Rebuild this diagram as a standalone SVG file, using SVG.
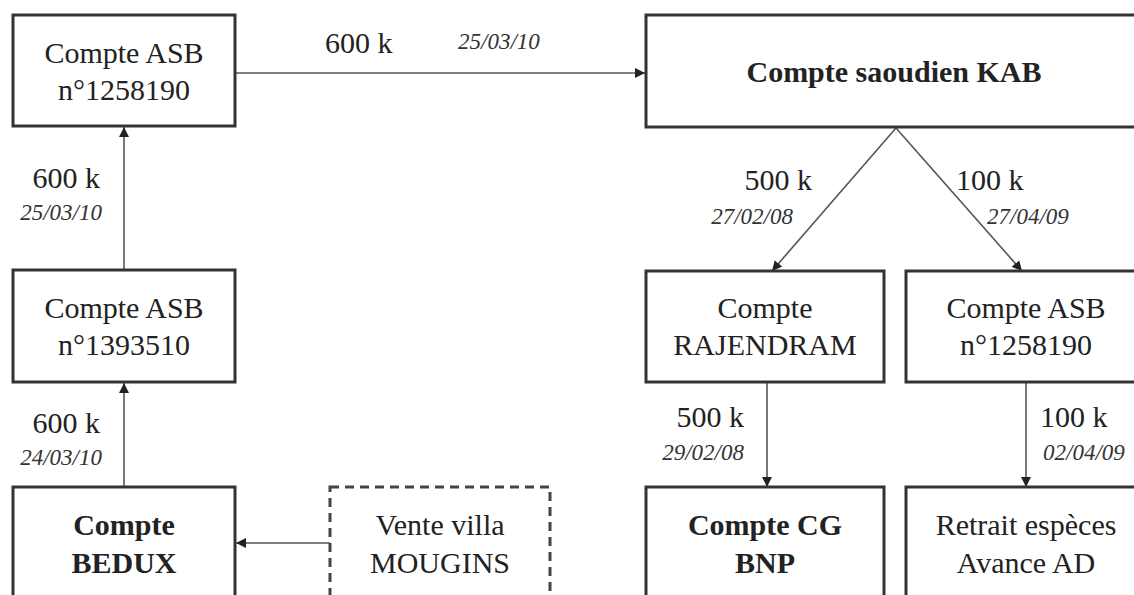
<svg xmlns="http://www.w3.org/2000/svg" width="1134" height="595" viewBox="0 0 1134 595">
<style>
  .box { fill: #fff; stroke: #333; stroke-width: 3; }
  .dash { fill: #fff; stroke: #444; stroke-width: 3; stroke-dasharray: 9 6; }
  .t { font-family: "Liberation Serif", "Times New Roman", serif; font-size: 30px; fill: #222; text-anchor: middle; }
  .b { font-weight: bold; }
  .amt { font-family: "Liberation Serif", "Times New Roman", serif; font-size: 30px; fill: #222; }
  .date { font-family: "Liberation Serif", "Times New Roman", serif; font-size: 23px; font-style: italic; fill: #333; }
  .conn { stroke: #555; stroke-width: 1.6; fill: none; marker-end: url(#arr); }
</style>
<defs>
  <marker id="arr" viewBox="0 0 10 10" refX="10" refY="5" markerWidth="10" markerHeight="10" markerUnits="userSpaceOnUse" orient="auto">
    <path d="M0,0 L10,5 L0,10 Z" fill="#222"/>
  </marker>
</defs>
<rect width="1134" height="595" fill="#fff"/>

<g id="connectors">
  <line class="conn" x1="235" y1="73" x2="645" y2="73"/>
  <line class="conn" x1="124" y1="270" x2="124" y2="127"/>
  <line class="conn" x1="124" y1="487" x2="124" y2="383"/>
  <line class="conn" x1="330" y1="543" x2="236" y2="543"/>
  <line class="conn" x1="896" y1="128" x2="772" y2="271"/>
  <line class="conn" x1="896" y1="128" x2="1022" y2="271"/>
  <line class="conn" x1="767" y1="383" x2="767" y2="487"/>
  <line class="conn" x1="1026" y1="383" x2="1026" y2="487"/>
  <text class="amt" x="325" y="53">600 k</text>
  <text class="date" x="458" y="49">25/03/10</text>
  <text class="amt" x="100" y="188" text-anchor="end">600 k</text>
  <text class="date" x="102" y="220" text-anchor="end">25/03/10</text>
  <text class="amt" x="100" y="433" text-anchor="end">600 k</text>
  <text class="date" x="102" y="465" text-anchor="end">24/03/10</text>
  <text class="amt" x="812" y="190" text-anchor="end">500 k</text>
  <text class="date" x="793" y="224" text-anchor="end">27/02/08</text>
  <text class="amt" x="956" y="190">100 k</text>
  <text class="date" x="987" y="224">27/04/09</text>
  <text class="amt" x="744" y="427" text-anchor="end">500 k</text>
  <text class="date" x="744" y="460" text-anchor="end">29/02/08</text>
  <text class="amt" x="1040" y="427">100 k</text>
  <text class="date" x="1043" y="460">02/04/09</text>
</g>

<g id="asb1258190">
  <rect class="box" x="13" y="15" width="222" height="111"/>
  <text class="t" x="124" y="63">Compte ASB</text>
  <text class="t" x="124" y="100">n°1258190</text>
</g>
<g id="kab">
  <rect class="box" x="646" y="15" width="500" height="112"/>
  <text class="t b" x="894" y="82">Compte saoudien KAB</text>
</g>
<g id="asb1393510">
  <rect class="box" x="13" y="270" width="222" height="112"/>
  <text class="t" x="124" y="318">Compte ASB</text>
  <text class="t" x="124" y="355">n°1393510</text>
</g>
<g id="rajendram">
  <rect class="box" x="646" y="271" width="238" height="111"/>
  <text class="t" x="765" y="318">Compte</text>
  <text class="t" x="765" y="355">RAJENDRAM</text>
</g>
<g id="asb1258190b">
  <rect class="box" x="906" y="271" width="240" height="111"/>
  <text class="t" x="1026" y="318">Compte ASB</text>
  <text class="t" x="1026" y="355">n°1258190</text>
</g>
<g id="bedux">
  <rect class="box" x="13" y="487" width="222" height="120"/>
  <text class="t b" x="124" y="535">Compte</text>
  <text class="t b" x="124" y="573">BEDUX</text>
</g>
<g id="mougins">
  <rect class="dash" x="330" y="487" width="220" height="120"/>
  <text class="t" x="440" y="535">Vente villa</text>
  <text class="t" x="440" y="573">MOUGINS</text>
</g>
<g id="cgbnp">
  <rect class="box" x="646" y="487" width="238" height="120"/>
  <text class="t b" x="765" y="535">Compte CG</text>
  <text class="t b" x="765" y="573">BNP</text>
</g>
<g id="retrait">
  <rect class="box" x="906" y="487" width="240" height="120"/>
  <text class="t" x="1026" y="535">Retrait espèces</text>
  <text class="t" x="1026" y="573">Avance AD</text>
</g>
</svg>
